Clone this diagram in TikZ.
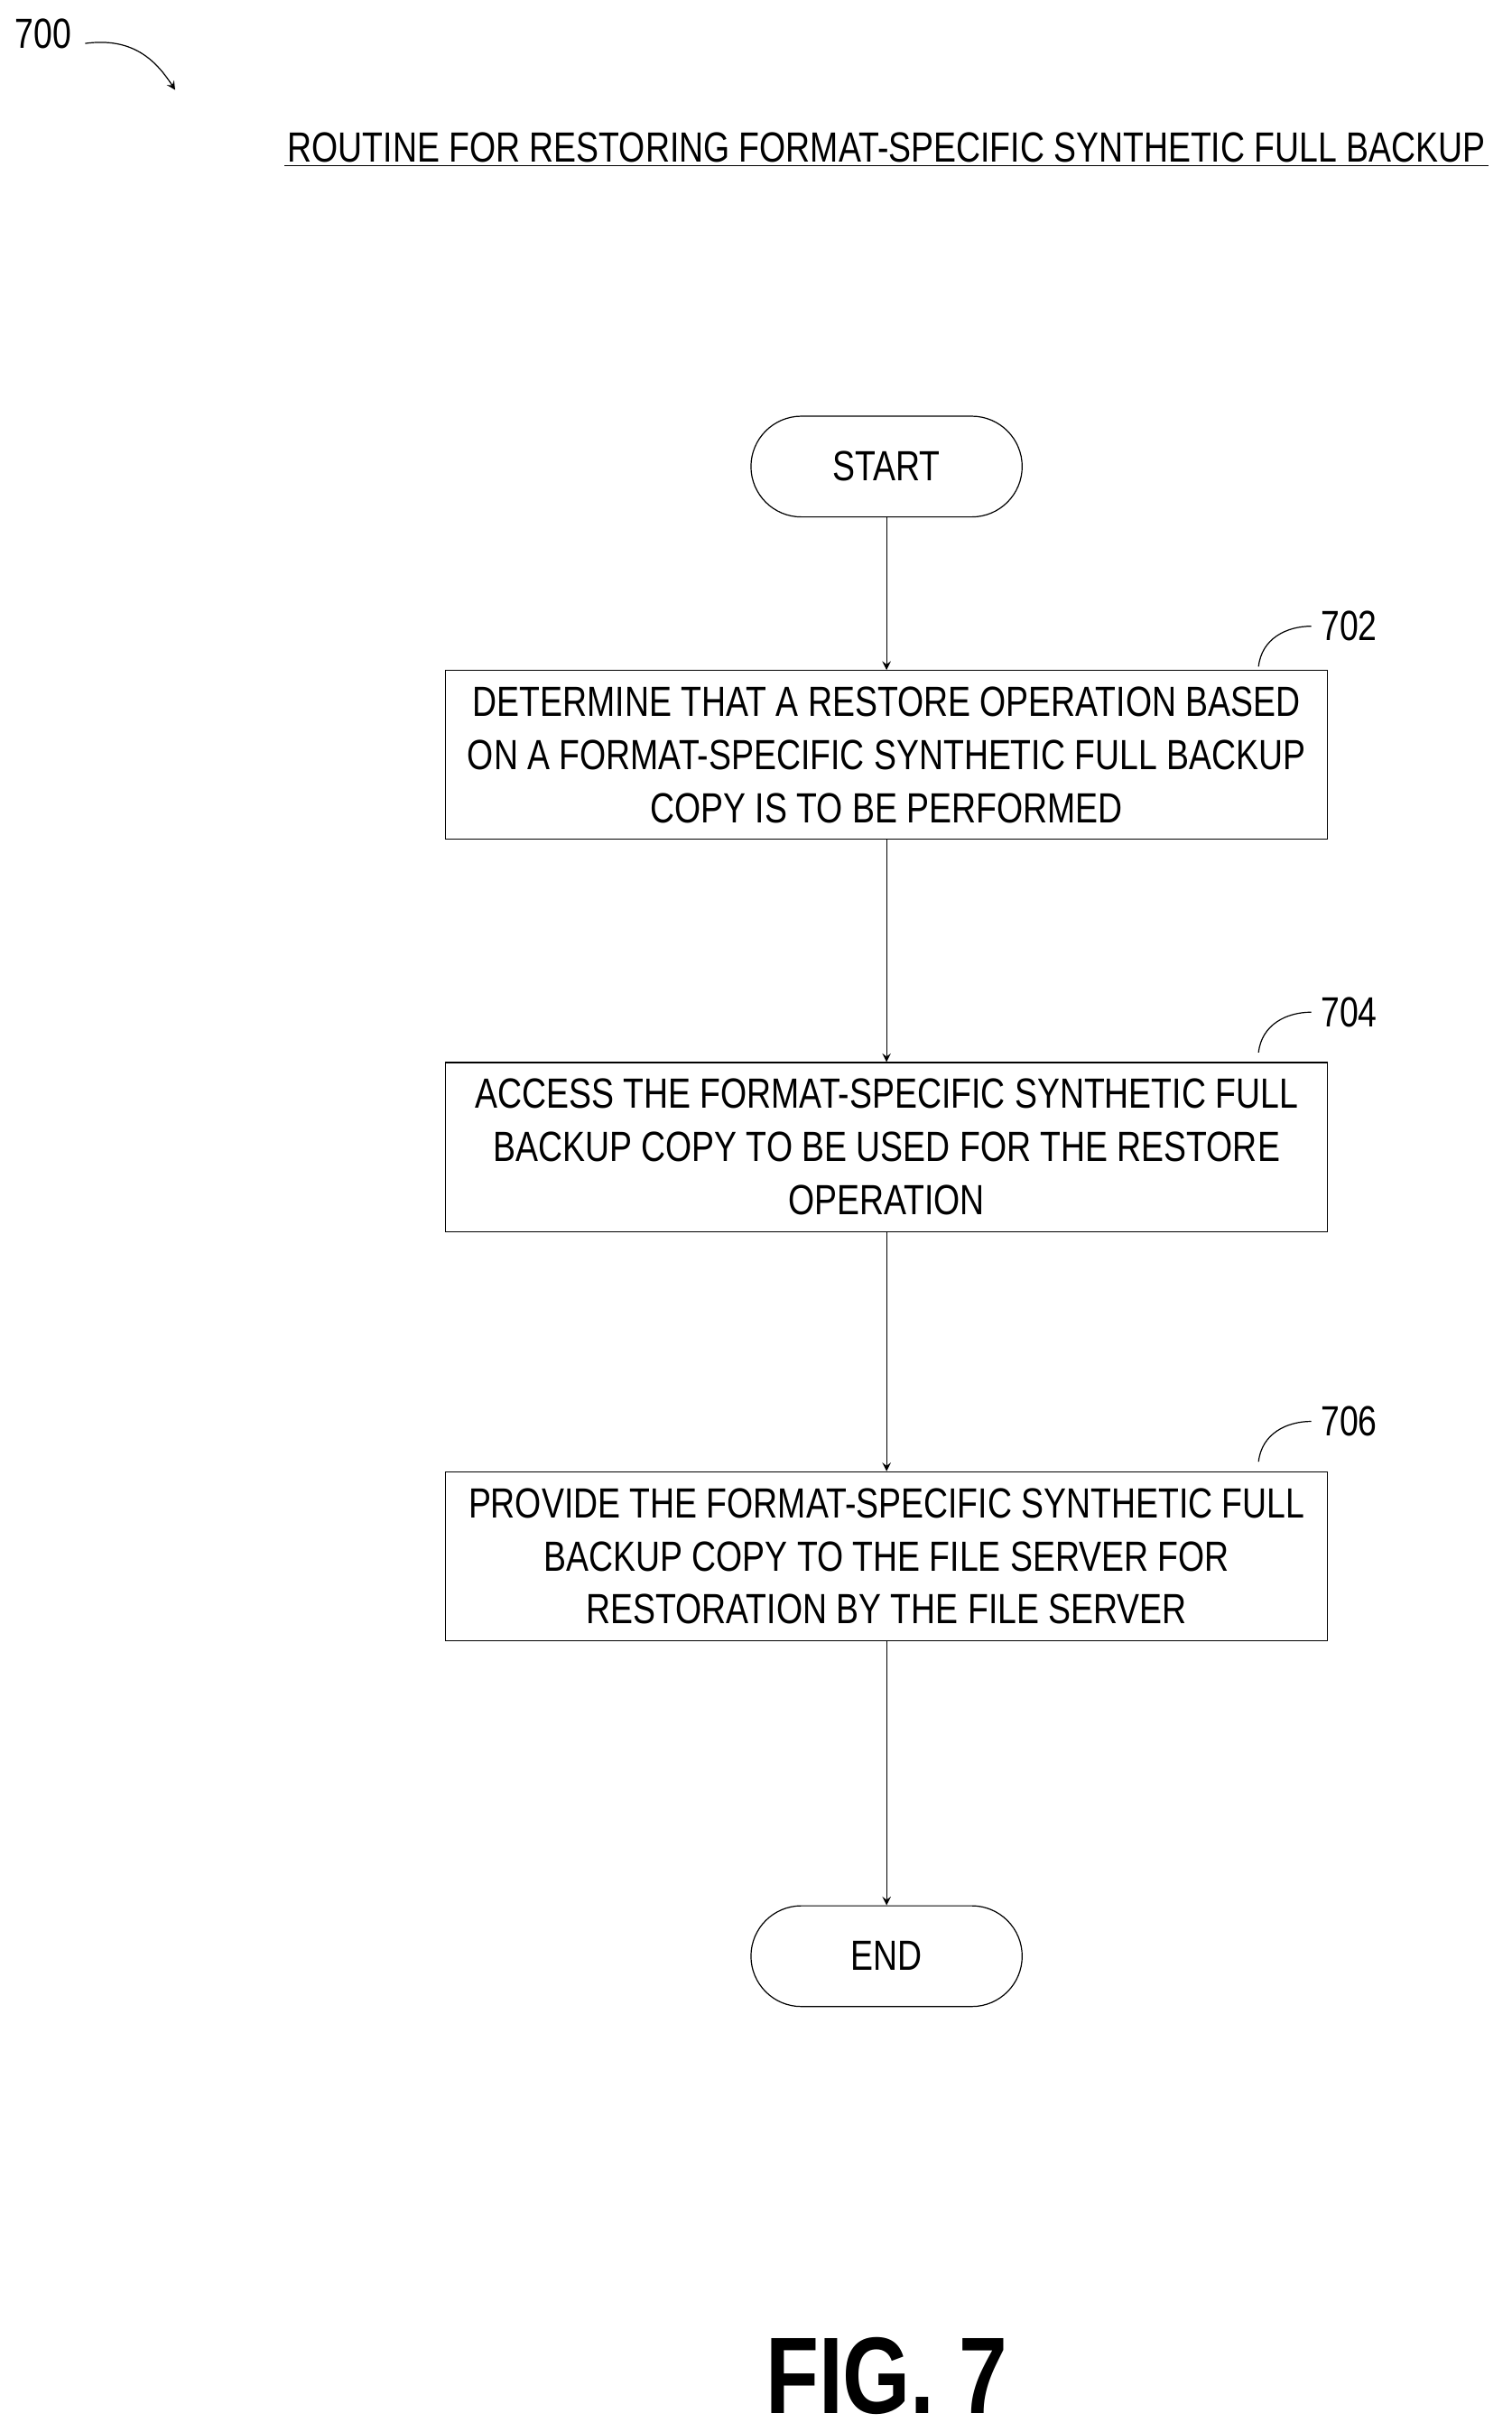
\documentclass[tikz,border=0pt]{standalone}
\usepackage{fontspec}
\setmainfont{Liberation Sans}[FakeStretch=0.8]
\begin{document}
\begin{tikzpicture}[x=0.02cm,y=-0.02cm,
    txt/.style={font=\fontsize{15.5}{19.5}\selectfont},
    terminal/.style={draw,rounded corners=0.65cm,minimum width=3.5cm,minimum height=1.3cm,txt},
    stepbox/.style={draw,minimum width=11.38cm,minimum height=2.18cm,align=center,txt},
    ref/.style={anchor=west,txt},
    flow/.style={->,>=stealth}]
\useasboundingbox (0,0) rectangle (975,1569);
% header
\node[txt] (fignum) at (28,22) {700};
\draw[->,>=stealth] (55,28) .. controls (85,24) and (100,38) .. (113,58);
\node[txt,inner sep=1pt] (title) at (572,95) {ROUTINE FOR RESTORING FORMAT-SPECIFIC SYNTHETIC FULL BACKUP};
\draw (title.south west) -- (title.south east);
% flow
\node[terminal] (start) at (572,301) {START};
\node[stepbox] (s702) at (572,487) {DETERMINE THAT A RESTORE OPERATION BASED\\ON A FORMAT-SPECIFIC SYNTHETIC FULL BACKUP\\COPY IS TO BE PERFORMED};
\node[stepbox] (s704) at (572,740) {ACCESS THE FORMAT-SPECIFIC SYNTHETIC FULL\\BACKUP COPY TO BE USED FOR THE RESTORE\\OPERATION};
\node[stepbox] (s706) at (572,1004) {PROVIDE THE FORMAT-SPECIFIC SYNTHETIC FULL\\BACKUP COPY TO THE FILE SERVER FOR\\RESTORATION BY THE FILE SERVER};
\node[terminal] (end) at (572,1262) {END};
\draw[flow] (start) -- (s702);
\draw[flow] (s702) -- (s704);
\draw[flow] (s704) -- (s706);
\draw[flow] (s706) -- (end);
% reference labels
\foreach \n/\y in {702/404,704/653,706/917}{
  \node[ref] (l\n) at (846,\y) {\n};
  \draw (812,\y+26) .. controls (814,\y+8) and (830,\y) .. (l\n.west);
}
\node[font=\bfseries\fontsize{40}{40}\selectfont] (fig) at (572,1533) {FIG. 7};
\end{tikzpicture}
\end{document}
